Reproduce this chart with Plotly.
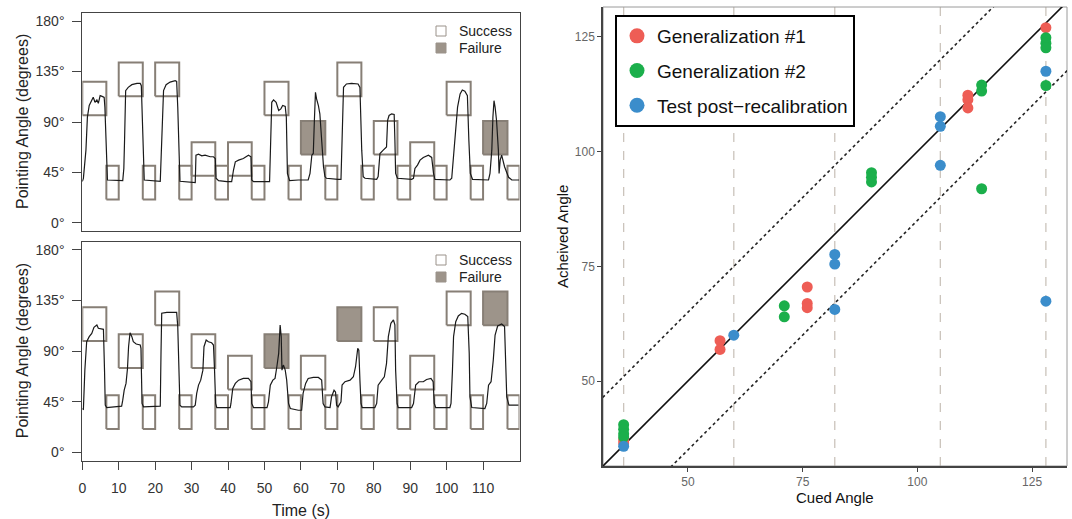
import plotly.graph_objects as go

W, H = 1072, 519

# ---------------- data ----------------
time_ticks = [0, 10, 20, 30, 40, 50, 60, 70, 80, 90, 100, 110]
angle_ticks = [0, 45, 90, 135, 180]
angle_tick_labels = ["0°", "45°", "90°", "135°", "180°"]

trial_start = [0, 10, 20, 30, 40, 50, 60, 70, 80, 90, 100, 110]
target_end = [6.6, 16.6, 26.6, 36.5, 46.5, 56.6, 66.7, 76.6, 86.5, 96.6, 106.6, 116.7]
rest_end = [10, 20, 30, 40, 50, 60, 70, 80, 90, 100, 110, 120]
rest_angle = 36
tolerance = 15

top_targets = [111, 128, 128, 57, 57, 111, 76, 128, 76, 57, 111, 76]
top_outcome = ["S", "S", "S", "S", "S", "S", "F", "S", "S", "S", "S", "F"]
bottom_targets = [114, 90, 128, 90, 71, 90, 71, 114, 114, 71, 128, 128]
bottom_outcome = ["S", "S", "S", "S", "S", "F", "S", "F", "S", "S", "S", "F"]

top_time = [0.0, 0.3, 1.0, 1.4, 1.9, 2.6, 3.0, 3.5, 4.0, 4.4, 4.9, 5.6, 6.0, 6.2, 6.5, 6.9, 11.1,
            11.4, 11.6, 11.9, 12.6, 13.6, 15.0, 15.9, 16.2, 16.6, 17.0, 21.4,
            21.8, 22.3, 23.0, 24.1, 25.5, 25.9, 26.2, 26.6, 26.8, 31.0,
            31.2, 31.9, 32.8, 33.7, 35.1, 36.0, 36.5, 36.7, 37.4, 39.7, 41.0,
            41.5, 42.0, 42.9, 44.2, 45.6, 46.3, 46.5, 47.0, 51.4,
            51.7, 52.0, 52.5, 53.2, 53.9, 54.5, 55.0, 55.7, 56.0, 56.3, 56.9, 59.3, 62.0,
            62.5, 63.0, 63.4, 63.7, 64.0, 64.3, 64.8, 65.2, 65.7, 66.0, 66.2, 66.6, 67.0, 70.2, 71.0,
            71.3, 71.7, 72.5, 73.9, 75.7, 76.2, 76.7, 77.1, 77.6, 80.8,
            81.2, 81.7, 82.6, 83.5, 83.8, 84.2, 84.9, 85.6, 85.8, 86.0, 86.5, 90.4,
            90.9, 91.3, 92.0, 92.7, 93.6, 95.0, 95.9, 96.4, 96.8, 100.9,
            101.4, 102.3, 103.0, 103.7, 104.3, 105.0, 105.7, 106.1, 106.5, 107.1, 111.5,
            111.9, 112.4, 112.7, 113.0, 113.3, 113.7, 114.2, 114.4, 114.7, 115.1, 115.9, 116.5, 117.0, 117.9, 119.9]
top_angle = [37, 39.8, 64.9, 94.3, 104.7, 109, 112, 107.6, 109.7, 106.7, 113.5, 112.6, 112, 103.2, 73.7, 38.3, 37.7,
             48.6, 73.7, 118, 120.9, 123.3, 124.4, 124.4, 122.4, 73.7, 38.3, 37.1,
             73.7, 118, 123.3, 125.6, 126.8, 126.2, 103.2, 44.2, 37.1, 36,
             60.4, 61.3, 59.8, 60.4, 59, 59, 57.5, 39.8, 37.7, 36.8, 36.8,
             47.2, 54.5, 56, 57.5, 60.4, 59, 38.3, 36.8, 36.8,
             73.7, 107.6, 109.7, 107.6, 100.3, 101.7, 104.7, 103.8, 94.3, 44.2, 37.7, 38.3, 38.3,
             44.2, 60.4, 61.9, 91.4, 116.5, 110.6, 104.7, 97.3, 73.7, 64.9, 50.1, 41.3, 39.8, 38.9, 38.9,
             73.7, 120.9, 123.9, 124.4, 123.9, 120.9, 64.9, 41.3, 39.8, 38.9,
             41.3, 61.9, 64.9, 67.8, 91.4, 95.8, 97.3, 96.7, 73.7, 44.2, 39.8, 38.9,
             39.8, 48.6, 51.6, 56, 58.4, 60.4, 58.4, 44.2, 38.9, 38.3,
             39.8, 73.7, 103.2, 115, 118.5, 117.4, 113.5, 73.7, 44.2, 38.9, 38.3,
             44.2, 64.9, 94.3, 109, 103.2, 91.4, 64.9, 44.2, 56, 60.4, 50.1, 44.2, 40.7, 38.3, 38.3]

bottom_time = [0.0, 0.3, 0.7, 1.2, 1.9, 2.6, 3.2, 4.0, 4.4, 5.3, 5.8, 6.1, 6.3, 6.7, 9.9, 10.8,
               11.1, 11.5, 12.0, 12.4, 12.7, 13.1, 13.6, 14.0, 14.8, 15.9, 16.1, 16.4, 16.8, 20.9,
               21.4, 21.6, 21.8, 23.2, 25.9, 26.2, 26.5, 26.8, 27.3, 30.5,
               31.0, 31.4, 31.9, 32.5, 33.1, 33.4, 34.0, 34.6, 35.5, 36.0, 36.3, 36.6, 36.9, 40.6,
               40.8, 41.3, 42.0, 42.9, 44.2, 45.6, 46.3, 46.5, 47.0, 50.7,
               51.1, 51.6, 52.3, 52.9, 53.4, 53.9, 54.3, 54.6, 54.8, 55.2, 55.7, 56.1, 56.6, 57.1, 59.3, 60.2,
               60.6, 61.3, 62.0, 63.4, 64.8, 65.7, 66.1, 66.6, 68.0, 68.4, 69.1, 69.5, 69.8, 70.2,
               71.0, 71.3, 72.1, 73.5, 74.4, 75.0, 75.6, 75.9, 76.2, 76.5, 76.8, 80.3,
               80.8, 81.2, 82.2, 82.9, 83.5, 84.0, 84.7, 85.4, 85.8, 86.0, 86.4, 86.7, 90.4,
               90.9, 91.5, 92.4, 93.6, 94.5, 95.7, 96.3, 96.6, 97.0, 100.9,
               101.2, 101.6, 101.9, 102.5, 103.2, 104.1, 105.0, 105.8, 106.2, 106.4, 106.9, 110.5,
               111.0, 111.5, 112.2, 112.8, 113.3, 114.0, 115.1, 115.9, 116.2, 116.5, 117.1, 119.7]
bottom_angle = [39, 38.5, 73.2, 98.4, 102.9, 105.8, 111.2, 113.3, 110.3, 109.4, 109.4, 73.2, 42.1, 40, 40.6, 41.2,
                46.5, 55.4, 61.4, 74.7, 94, 106.4, 102.9, 98.4, 96.4, 95.5, 92.5, 43.6, 40.6, 40.6,
                41.2, 88.1, 123.7, 124.5, 124.5, 111.8, 73.2, 42.1, 40.6, 40.6,
                42.1, 52.5, 59.9, 64.3, 73.2, 94, 99.9, 98.4, 97.5, 95.5, 73.2, 43.6, 40, 40,
                43.6, 56.9, 61.4, 64.3, 65.8, 65.8, 62.9, 43.6, 40, 40,
                45.1, 59.9, 64.3, 65.8, 76.2, 88.1, 113.3, 102.9, 73.2, 77.7, 73.2, 64.3, 43.6, 39.1, 37.6, 37.6,
                52.5, 61.4, 65.8, 66.7, 66.7, 64.3, 43.6, 40.6, 40, 49.5, 55.4, 53.9, 42.1, 40.6,
                45.1, 59.9, 62.9, 64.3, 67.3, 76.2, 92.5, 91, 64.3, 43.6, 40, 40,
                43.6, 59.9, 64.3, 67.3, 79.2, 102.9, 114.8, 117.7, 113.3, 73.2, 43.6, 40, 40,
                43.6, 59.9, 62.9, 62.9, 64.9, 65.8, 62.9, 43.6, 40, 40,
                43.6, 73.2, 102.9, 116.2, 121.3, 123.6, 122.8, 120.7, 88.1, 49.5, 40, 39.1,
                43.6, 59.9, 62.9, 82.1, 104.4, 112.4, 114.2, 111.8, 88.1, 49.5, 42.1, 42.1]

cued_lines = [36, 60, 82, 105, 128]
band_offset = 15
cued_ticks = [50, 75, 100, 125]

gen1_cued = [36, 36, 57, 57, 76, 76, 76, 111, 111, 111, 128]
gen1_achieved = [37.2, 36.5, 58.8, 56.9, 70.5, 66.9, 66.0, 112.3, 111.3, 109.5, 127.0]
gen2_cued = [36, 36, 36, 36, 71, 71, 90, 90, 90, 114, 114, 114, 128, 128, 128, 128]
gen2_achieved = [40.5, 39.5, 38.5, 37.8, 66.4, 64.0, 95.4, 94.4, 93.4, 114.5, 113.2, 91.9, 124.8, 123.6, 122.6, 114.4]
test_cued = [36, 60, 82, 82, 82, 105, 105, 105, 128, 128]
test_achieved = [35.8, 60.0, 77.6, 75.5, 65.6, 107.6, 105.5, 97.0, 117.5, 67.4]

series_names = ["Generalization #1", "Generalization #2", "Test post\u2212recalibration"]
series_colors = ["#EE5D55", "#1BAF4B", "#3B8DCB"]

# ---------------- styles ----------------
FONT = "Liberation Sans, Arial, Helvetica, sans-serif"
BOX_LINE = "#877f76"
FAIL_FILL = "#9d948a"

fig = go.Figure()


def box_path(x0s, x1s, centers):
    xs, ys = [], []
    for a, b, c in zip(x0s, x1s, centers):
        lo, hi = c - tolerance, c + tolerance
        xs += [a, b, b, a, a, None]
        ys += [lo, lo, hi, hi, lo, None]
    return xs, ys


def add_panel(targets, outcome, t, ang, xa, ya):
    rx, ry = box_path(target_end, rest_end, [rest_angle] * len(rest_end))
    fig.add_trace(go.Scatter(x=rx, y=ry, mode="lines", line=dict(color=BOX_LINE, width=2),
                             xaxis=xa, yaxis=ya, showlegend=False, hoverinfo="skip"))
    s_idx = [i for i, o in enumerate(outcome) if o == "S"]
    sx, sy = box_path([trial_start[i] for i in s_idx], [target_end[i] for i in s_idx],
                      [targets[i] for i in s_idx])
    fig.add_trace(go.Scatter(x=sx, y=sy, mode="lines", line=dict(color=BOX_LINE, width=2),
                             xaxis=xa, yaxis=ya, showlegend=False, hoverinfo="skip"))
    f_idx = [i for i, o in enumerate(outcome) if o == "F"]
    fx, fy = box_path([trial_start[i] for i in f_idx], [target_end[i] for i in f_idx],
                      [targets[i] for i in f_idx])
    fig.add_trace(go.Scatter(x=fx, y=fy, mode="lines", fill="toself", fillcolor=FAIL_FILL,
                             line=dict(color=BOX_LINE, width=2),
                             xaxis=xa, yaxis=ya, showlegend=False, hoverinfo="skip"))
    fig.add_trace(go.Scatter(x=t, y=ang, mode="lines", line=dict(color="#1a1a1a", width=1.2),
                             xaxis=xa, yaxis=ya, showlegend=False))


add_panel(top_targets, top_outcome, top_time, top_angle, "x", "y")
add_panel(bottom_targets, bottom_outcome, bottom_time, bottom_angle, "x2", "y2")

# ---- right panel ----
line_x = [0, 200]
fig.add_trace(go.Scatter(x=line_x, y=[v + band_offset for v in line_x], mode="lines",
                         line=dict(color="#222", width=1.6, dash="dot"),
                         xaxis="x3", yaxis="y3", showlegend=False, hoverinfo="skip"))
fig.add_trace(go.Scatter(x=line_x, y=[v - band_offset for v in line_x], mode="lines",
                         line=dict(color="#222", width=1.6, dash="dot"),
                         xaxis="x3", yaxis="y3", showlegend=False, hoverinfo="skip"))
fig.add_trace(go.Scatter(x=line_x, y=line_x, mode="lines",
                         line=dict(color="#111", width=1.6),
                         xaxis="x3", yaxis="y3", showlegend=False, hoverinfo="skip"))

for cx, cy, col in [(gen1_cued, gen1_achieved, series_colors[0]),
                    (gen2_cued, gen2_achieved, series_colors[1]),
                    (test_cued, test_achieved, series_colors[2])]:
    fig.add_trace(go.Scatter(x=cx, y=cy, mode="markers",
                             marker=dict(color=col, size=11, line=dict(width=0)),
                             xaxis="x3", yaxis="y3", showlegend=False))

for i, (name, col) in enumerate(zip(series_names, series_colors)):
    fig.add_trace(go.Scatter(x=[None], y=[None], mode="markers", name=name,
                             marker=dict(color=col, size=15), legendgroup=f"g{i}",
                             xaxis="x3", yaxis="y3", showlegend=True))

shapes = []
for v in cued_lines:
    shapes.append(dict(type="line", xref="x3", yref="y3 domain", x0=v, x1=v, y0=0, y1=1,
                       line=dict(color="#cbc4bc", width=1.3, dash="dash"), layer="below"))
shapes.append(dict(type="rect", xref="x3 domain", yref="y3 domain", x0=0, x1=1, y0=0, y1=1,
                   line=dict(color="#9a9a9a", width=1), layer="below"))

annotations = []
for top_px in (31, 260):
    for k, (lab, fill) in enumerate([("Success", "white"), ("Failure", FAIL_FILL)]):
        cy = top_px + k * 17
        shapes.append(dict(type="rect", xref="paper", yref="paper",
                           x0=436 / W, x1=446 / W, y0=1 - (cy + 5) / H, y1=1 - (cy - 5) / H,
                           line=dict(color="#9a928a", width=1), fillcolor=fill))
        annotations.append(dict(text=lab, x=457 / W, y=1 - cy / H, xref="paper", yref="paper",
                                xanchor="left", yanchor="middle", showarrow=False,
                                font=dict(size=14, color="#222", family=FONT)))

for cy in ((13 + 231) / 2, (241.7 + 460.7) / 2):
    annotations.append(dict(text="Pointing Angle (degrees)", x=22 / W, y=1 - cy / H,
                            xref="paper", yref="paper", textangle=-90, showarrow=False,
                            xanchor="center", yanchor="middle",
                            font=dict(size=16, color="#222", family=FONT)))
annotations.append(dict(text="Time (s)", x=301 / W, y=1 - 510 / H, xref="paper", yref="paper",
                        showarrow=False, xanchor="center", yanchor="middle",
                        font=dict(size=16, color="#222", family=FONT)))
annotations.append(dict(text="Cued Angle", x=835 / W, y=1 - 497 / H, xref="paper", yref="paper",
                        showarrow=False, xanchor="center", yanchor="middle",
                        font=dict(size=15, color="#111", family=FONT)))
annotations.append(dict(text="Acheived Angle", x=563 / W, y=1 - 237 / H, xref="paper", yref="paper",
                        showarrow=False, xanchor="center", yanchor="middle", textangle=-90,
                        font=dict(size=15, color="#111", family=FONT)))

left_dom = [82.3 / W, 519.5 / W]
common_left_y = dict(range=[-7.2, 187.2], tickvals=angle_ticks, ticktext=angle_tick_labels,
                     ticks="outside", ticklen=9, tickwidth=1, tickcolor="#444",
                     showline=True, mirror=True, linecolor="#444", linewidth=1,
                     showgrid=False, zeroline=False, ticklabelstandoff=5,
                     tickfont=dict(size=14, color="#333", family=FONT))

fig.update_layout(
    width=W, height=H, margin=dict(l=0, r=0, t=0, b=0, autoexpand=False),
    paper_bgcolor="white", plot_bgcolor="white",
    font=dict(family=FONT),
    xaxis=dict(domain=left_dom, anchor="y", range=[0, 120], showticklabels=False, ticks="",
               showline=True, mirror=True, linecolor="#444", linewidth=1,
               showgrid=False, zeroline=False),
    yaxis=dict(domain=[1 - 231 / H, 1 - 13 / H], anchor="x", **common_left_y),
    xaxis2=dict(domain=left_dom, anchor="y2", range=[0, 120], tickvals=time_ticks,
                ticks="outside", ticklen=8, tickwidth=1, tickcolor="#444",
                showline=True, mirror=True, linecolor="#444", linewidth=1,
                showgrid=False, zeroline=False, ticklabelstandoff=6,
                tickfont=dict(size=14, color="#333", family=FONT)),
    yaxis2=dict(domain=[1 - 460.7 / H, 1 - 241.7 / H], anchor="x2", **common_left_y),
    xaxis3=dict(domain=[603 / W, 1067 / W], anchor="y3", range=[31.5, 132.6], tickvals=cued_ticks,
                ticks="outside", ticklen=4, tickwidth=1, tickcolor="#444",
                showline=True, linecolor="#444", linewidth=1.5,
                showgrid=False, zeroline=False,
                tickfont=dict(size=12, color="#666", family=FONT)),
    yaxis3=dict(domain=[1 - 466 / H, 1 - 7 / H], anchor="x3", range=[31.5, 131.5], tickvals=cued_ticks,
                ticks="outside", ticklen=4, tickwidth=1, tickcolor="#444",
                showline=True, linecolor="#444", linewidth=1.5,
                showgrid=False, zeroline=False,
                tickfont=dict(size=12, color="#666", family=FONT)),
    legend=dict(x=615 / W, y=1 - 15 / H, xanchor="left", yanchor="top",
                bordercolor="black", borderwidth=2, bgcolor="white",
                font=dict(size=19, color="#111", family=FONT),
                tracegroupgap=7, itemclick=False),
    shapes=shapes,
    annotations=annotations,
)

fig.write_html("out.html", config={"displayModeBar": False},
               post_script="document.body.style.margin='0';document.body.style.padding='0';"
                           "document.documentElement.style.overflow='hidden';")
